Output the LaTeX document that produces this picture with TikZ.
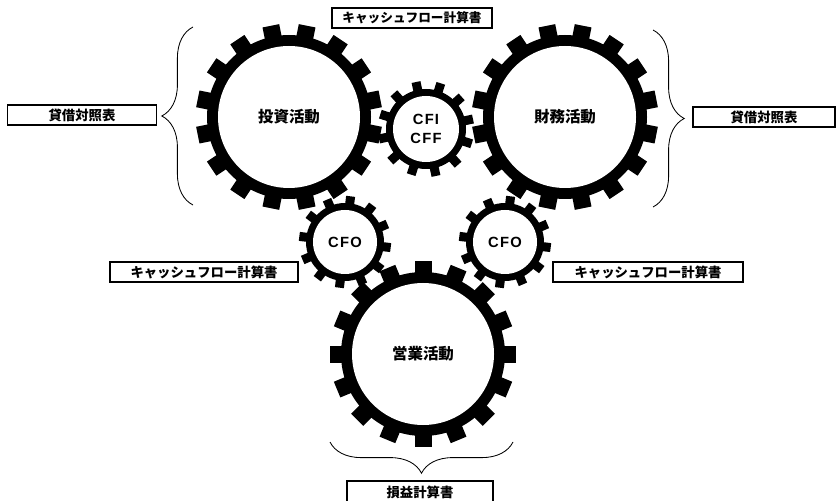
\documentclass[tikz,border=0pt]{standalone}
\usepackage{fontspec}
\usepackage{tikz}
\usetikzlibrary{decorations.pathreplacing}

\newfontfamily\cjk{Noto Sans CJK JP}
\newfontfamily\cffont[LetterSpace=8]{Liberation Sans}

% gear: centre, tip radius, root radius, bore radius, teeth, first angle, tooth width
\newcommand{\gear}[7]{%
    \fill (#1) circle (#3);
    \foreach \k in {1,...,#5}
        \fill[shift={(#1)}, rotate={#6+360/#5*\k}] (#4,-#7/2) rectangle (#2,#7/2);
    \fill[white] (#1) circle (#4);
}

\begin{document}
\begin{tikzpicture}[x=0.025cm, y=0.025cm,
        box/.style={draw, line width=0.9pt, minimum height=0.5cm, inner sep=0pt,
            font=\cjk\bfseries\fontsize{9.5}{11}\selectfont},
        gearlabel/.style={font=\cjk\bfseries\fontsize{11}{12}\selectfont},
        cflabel/.style={font=\cffont\bfseries\fontsize{10.5}{13.5}\selectfont, align=center},
        curly/.style={decorate, decoration={brace, amplitude=0.78cm}, line width=0.6pt}]
    \useasboundingbox (0,0) rectangle (840,500);

    % gear centres
    \coordinate (invest) at (289,383);
    \coordinate (finance) at (565,383);
    \coordinate (cfi) at (426,371);
    \coordinate (cfoL) at (345,258);
    \coordinate (cfoR) at (505,258);
    \coordinate (operate) at (423,146);

    \gear{invest}{93}{82}{71}{16}{11.25}{17}
    \gear{finance}{93}{82}{71}{16}{11.25}{17}
    \gear{operate}{93}{82}{71}{16}{0}{17}
    \gear{cfi}{48}{40}{33}{12}{12}{9}
    \gear{cfoL}{46}{39}{32}{12}{23}{9}
    \gear{cfoR}{46}{39}{32}{12}{23}{9}

    \node[gearlabel] (investlbl) at (invest) {投資活動};
    \node[gearlabel] (financelbl) at (finance) {財務活動};
    \node[gearlabel] (operatelbl) at (operate) {営業活動};
    \node[cflabel] (cfilbl) at (cfi) {CFI\\CFF};
    \node[cflabel] (cfoLlbl) at (cfoL) {CFO};
    \node[cflabel] (cfoRlbl) at (cfoR) {CFO};

    % statements
    \node[box, minimum width=4cm, font=\cjk\bfseries\fontsize{9}{11}\selectfont] (cftop) at (412,482) {キャッシュフロー計算書};
    \node[box, minimum width=3.72cm] (bsleft) at (82,385) {貸借対照表};
    \node[box, minimum width=3.55cm] (bsright) at (764,383) {貸借対照表};
    \node[box, minimum width=4.7cm] (cfleft) at (204,228) {キャッシュフロー計算書};
    \node[box, minimum width=4.75cm] (cfright) at (648,228) {キャッシュフロー計算書};
    \node[box, minimum width=3.65cm, minimum height=0.55cm] (pl) at (420,8) {損益計算書};

    % braces
    \coordinate (bL1) at (193,295);
    \coordinate (bL2) at (193,473);
    \coordinate (bR1) at (653,470);
    \coordinate (bR2) at (653,293);
    \coordinate (bB1) at (513,58);
    \coordinate (bB2) at (330,58);
    \draw[curly] (bL1) -- (bL2);
    \draw[curly] (bR1) -- (bR2);
    \draw[curly] (bB1) -- (bB2);
\end{tikzpicture}
\end{document}
